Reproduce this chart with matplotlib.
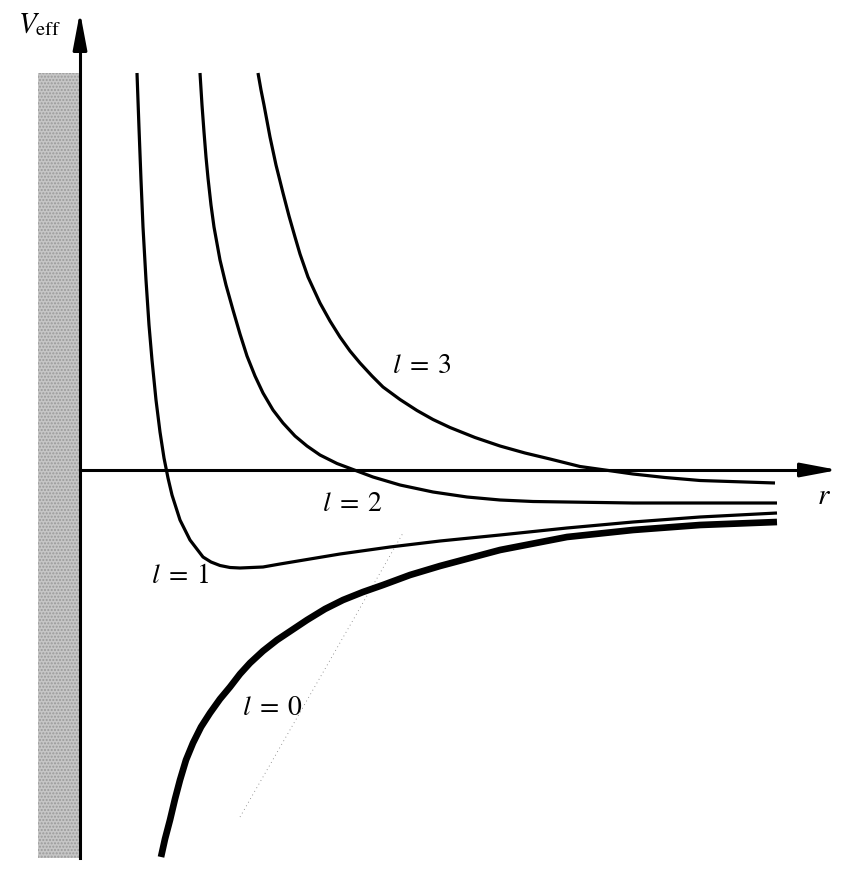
import matplotlib
matplotlib.use("Agg")
import matplotlib.pyplot as plt

plt.rcParams['mathtext.fontset'] = 'stix'
plt.rcParams['font.family'] = ['STIXGeneral', 'DejaVu Serif']
plt.rcParams['hatch.color'] = '#9a9a9a'

# curves: r along the axis, V_eff above (+) / below (-) the r axis
r_l0 = [81, 85, 90, 95, 100, 106, 113, 121, 130, 140, 150, 160, 170, 183, 197, 212, 227, 245,
        263, 283, 303, 330, 360, 420, 487, 553, 620, 697]
v_l0 = [-387, -369, -350, -329, -310, -290, -273, -257, -243, -229, -217, -204, -193, -181,
        -170, -160, -150, -139, -130, -122, -115, -105, -96, -80, -67, -60, -55, -52]

r_l1 = [57, 59, 61, 63, 66, 69, 72, 76, 80, 84, 88, 92, 100, 110, 123, 131, 140, 150, 160,
        183, 200, 230, 260, 310, 360, 420, 487, 553, 620, 697]
v_l1 = [397, 342, 290, 243, 190, 145, 110, 70, 38, 12, -8, -25, -50, -70, -87, -92, -95.5, -97.5, -98,
        -97, -94, -89, -84, -77, -71, -65, -58, -52, -47, -43]

r_l2 = [120, 122, 124, 126, 128, 131, 134, 140, 146, 153, 160, 167, 175, 183, 193, 203, 215,
        227, 240, 257, 273, 293, 320, 353, 387, 420, 453, 553, 697]
v_l2 = [397, 365, 338, 313, 292, 265, 243, 210, 185, 160, 136, 114, 94, 77, 60, 47, 34,
        24, 15, 6.5, 0.5, -7, -15, -22, -27, -30, -31.5, -33, -33]

r_l3 = [178, 181, 184, 187, 190, 196, 203, 209, 215, 220, 228, 240, 250, 260, 270, 280, 292,
        303, 320, 337, 353, 370, 395, 420, 445, 470, 500, 525, 553, 585, 620, 695]
v_l3 = [397, 380, 365, 349, 333, 305, 277, 254, 233, 216, 193, 167, 149, 133, 119, 107, 94,
        83, 70.5, 59.5, 50.5, 42.5, 32.5, 24, 17, 11, 3.5, 0, -4, -7.5, -10.5, -13]

curve_labels = [r"$l\;=\;0$", r"$l\;=\;1$", r"$l\;=\;2$", r"$l\;=\;3$"]
label_pos = [(192, -238), (100, -106), (273, -34), (342, 104)]

# faint leader line seen on the scan
leader_r = [160, 323]
leader_v = [-347, -63]

fig = plt.figure(figsize=(8.59, 8.92), dpi=100)
ax = fig.add_axes([0, 0, 1, 1])
ax.set_xlim(-80, 779)
ax.set_ylim(-422, 470)
ax.axis('off')

# shaded wall at r = 0
ax.fill_between([-42, 0], -388, 397, facecolor='#c6c6c6', edgecolor='none',
                hatch='.....', zorder=1)

# axes with arrows
arrow = dict(arrowstyle='-|>,head_length=0.9,head_width=0.17',
             mutation_scale=25, color='k', lw=2.2, shrinkA=0, shrinkB=0)
ax.plot([0, 0], [-388, 430], color='k', lw=2.2, zorder=3)
ax.annotate('', xy=(0, 458), xytext=(0, 420), arrowprops=arrow)
ax.plot([0, 735], [0, 0], color='k', lw=2.2, zorder=3)
ax.annotate('', xy=(758, 0), xytext=(720, 0), arrowprops=arrow)

ax.plot(leader_r, leader_v, color='#777777', lw=0.6, ls=(0, (1, 4)), zorder=2)

ax.plot(r_l0, v_l0, color='k', lw=4.8, solid_capstyle='butt', solid_joinstyle='round', zorder=4)
for rr, vv in [(r_l1, v_l1), (r_l2, v_l2), (r_l3, v_l3)]:
    ax.plot(rr, vv, color='k', lw=2.3, solid_capstyle='butt', solid_joinstyle='round', zorder=4)

for txt, (x, y) in zip(curve_labels, label_pos):
    ax.text(x, y, txt, fontsize=20, ha='center', va='center')

ax.text(-62, 438, r'$V_{\mathrm{eff}}$', fontsize=21, ha='left', va='baseline')
ax.text(744, -27, r'$r$', fontsize=21, ha='center', va='center')

fig.savefig('out.png', dpi=100)
